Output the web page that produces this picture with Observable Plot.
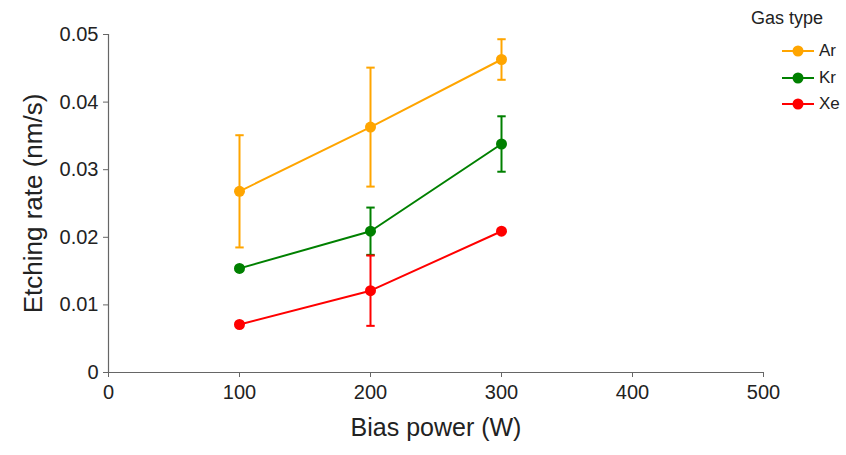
<!DOCTYPE html>
<html>
<head>
<meta charset="utf-8">
<script src="https://cdn.jsdelivr.net/npm/d3@7"></script>
<script src="https://cdn.jsdelivr.net/npm/@observablehq/plot@0.6"></script>
<style>
  html, body { margin: 0; padding: 0; background: #fff; }
  #wrap { position: relative; width: 846px; height: 455px; font-family: "Liberation Sans", Arial, sans-serif; }
  .lg { position: absolute; color: #222; line-height: 20px; height: 20px; white-space: nowrap; }
  .lg.title { left: 751px; top: 8px; font-size: 18px; }
  .lg.item { left: 782px; font-size: 17px; display: flex; align-items: center; }
  .lg svg { margin-right: 5px; }
</style>
</head>
<body>
<div id="wrap"></div>
<script>
const gases = ["Ar", "Kr", "Xe"];
const colors = ["#FFA500", "#008000", "#FF0000"];
const power = [100, 200, 300];
const arRate = [0.0268, 0.0363, 0.0463];
const arErr  = [0.0083, 0.0088, 0.0030];
const krRate = [0.0154, 0.0209, 0.0338];
const krErr  = [0.0003, 0.0035, 0.0041];
const xeRate = [0.0071, 0.0121, 0.0209];
const xeErr  = [0.0003, 0.0052, 0.0002];
const xTicks = [0, 100, 200, 300, 400, 500];
const yTicks = [0, 0.01, 0.02, 0.03, 0.04, 0.05];

const rates = [arRate, krRate, xeRate];
const errs = [arErr, krErr, xeErr];
const data = [];
gases.forEach((g, i) => power.forEach((p, j) => data.push({
  gas: g, power: p, rate: rates[i][j], lo: rates[i][j] - errs[i][j], hi: rates[i][j] + errs[i][j]
})));

const capSymbol = { draw(ctx, size) { const r = Math.sqrt(size / Math.PI); ctx.moveTo(-r, 0); ctx.lineTo(r, 0); } };
const color = { domain: gases, range: colors };
const yFmt = d => d === 0 ? "0" : d.toFixed(2);

const chart = Plot.plot({
  width: 846, height: 455,
  marginLeft: 108, marginRight: 83, marginTop: 34, marginBottom: 83,
  style: { fontFamily: "Liberation Sans, Arial, sans-serif", color: "#222", background: "#fff" },
  x: { domain: [0, 500], ticks: xTicks, label: null },
  y: { domain: [0, 0.05], ticks: yTicks, label: null, tickFormat: yFmt },
  color,
  marks: [
    Plot.axisX({ ticks: xTicks, tickSize: 5, fontSize: 20, tickPadding: 7, stroke: "#666", label: null }),
    Plot.axisY({ ticks: yTicks, tickSize: 5, fontSize: 20, tickPadding: 5, stroke: "#666", label: null, tickFormat: yFmt }),
    Plot.ruleY([0], { stroke: "#666", strokeWidth: 1.2 }),
    Plot.ruleX([0], { stroke: "#666", strokeWidth: 1.2 }),
    Plot.ruleX(data, { x: "power", y1: "lo", y2: "hi", stroke: "gas", strokeWidth: 2 }),
    Plot.dot(data, { x: "power", y: "lo", symbol: capSymbol, r: 4.2, stroke: "gas", strokeWidth: 2, fill: "none" }),
    Plot.dot(data, { x: "power", y: "hi", symbol: capSymbol, r: 4.2, stroke: "gas", strokeWidth: 2, fill: "none" }),
    Plot.line(data, { x: "power", y: "rate", z: "gas", stroke: "gas", strokeWidth: 2 }),
    Plot.dot(data, { x: "power", y: "rate", fill: "gas", r: 5.5 }),
    Plot.text(["Bias power (W)"], { frameAnchor: "bottom", dy: 63, fontSize: 25, fill: "#222" }),
    Plot.text(["Etching rate (nm/s)"], { frameAnchor: "left", textAnchor: "middle", dx: -75, rotate: -90, fontSize: 26, fill: "#222" })
  ]
});
const wrap = document.getElementById("wrap");
wrap.appendChild(chart);

const title = document.createElement("div");
title.className = "lg title";
title.textContent = "Gas type";
wrap.appendChild(title);
const itemY = [51, 77.5, 104];
gases.forEach((g, i) => {
  const el = document.createElement("div");
  el.className = "lg item";
  el.style.top = (itemY[i] - 10) + "px";
  el.innerHTML = `<svg width="32" height="12"><line x1="0" x2="32" y1="6" y2="6" stroke="${colors[i]}" stroke-width="2"/><circle cx="16" cy="6" r="5.5" fill="${colors[i]}"/></svg>${g}`;
  wrap.appendChild(el);
});
</script>
</body>
</html>
